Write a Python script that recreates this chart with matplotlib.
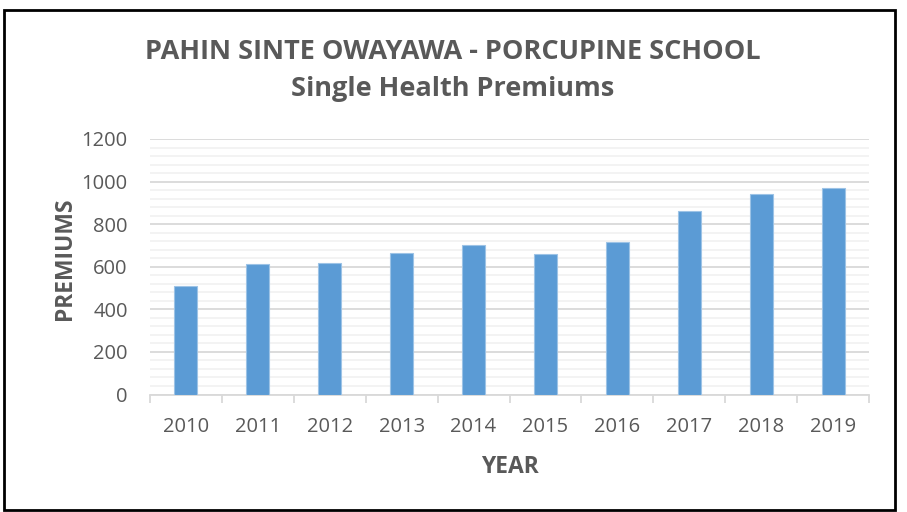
import matplotlib
matplotlib.use("Agg")
import matplotlib.pyplot as plt
from matplotlib.patches import Rectangle
from matplotlib.ticker import MultipleLocator, FixedLocator

years = ["2010", "2011", "2012", "2013", "2014", "2015", "2016", "2017", "2018", "2019"]
premiums = [509, 612, 617, 663, 700, 659, 716, 863, 940, 968]
yticks = [0, 200, 400, 600, 800, 1000, 1200]

title1 = "PAHIN SINTE OWAYAWA - PORCUPINE SCHOOL"
title2 = "Single Health Premiums"
xlabel = "YEAR"
ylabel = "PREMIUMS"

plt.rcParams['font.family'] = ['Open Sans', 'DejaVu Sans']
grey = '#595959'

fig = plt.figure(figsize=(9.07, 5.12), dpi=100)
ax = fig.add_axes([150/907, 1-394.5/512, (869-150)/907, (394.5-139)/512])

x = list(range(len(years)))
ax.bar(x, premiums, width=0.32, color='#5B9BD5', edgecolor='#9DC3E6', linewidth=0.8, zorder=3)

ax.set_xlim(-0.5, len(years)-0.5)
ax.set_ylim(0, 1200)
ax.yaxis.set_major_locator(FixedLocator(yticks))
ax.yaxis.set_minor_locator(MultipleLocator(40))
ax.grid(axis='y', which='major', color='#D9D9D9', linewidth=1.3, zorder=0)
ax.grid(axis='y', which='minor', color='#F2F2F2', linewidth=1.3, zorder=0)
ax.set_axisbelow(True)

for s in ['left', 'right', 'top']:
    ax.spines[s].set_visible(False)
ax.spines['bottom'].set_color('#D9D9D9')
ax.spines['bottom'].set_linewidth(1.3)

ax.set_xticks(x)
ax.set_xticklabels(years)
ax.xaxis.set_minor_locator(FixedLocator([i - 0.5 for i in range(len(years)+1)]))
ax.tick_params(axis='x', which='major', length=0, pad=16, labelsize=14.5, labelcolor=grey)
ax.tick_params(axis='x', which='minor', length=6, width=1.3, color='#D9D9D9')
ax.tick_params(axis='y', which='both', length=0, pad=16, labelsize=14.5, labelcolor=grey)

fig.text(509.5/907, 1-473/512, xlabel, ha='center', va='baseline', fontsize=16.5, fontweight='bold', color=grey)
fig.text(65/907, 1-259/512, ylabel, ha='center', va='center', rotation=90, fontsize=16.5, fontweight='bold', color=grey)

fig.text(453/907, 1-59/512, title1, ha='center', va='baseline', fontsize=19.5, fontweight='bold', color=grey)
fig.text(453/907, 1-96/512, title2, ha='center', va='baseline', fontsize=19.5, fontweight='bold', color=grey)

fig.patches.append(Rectangle((4/907, 1-510/512), (895-4)/907, (510-10)/512, transform=fig.transFigure,
                             fill=False, edgecolor='black', linewidth=2))

fig.savefig("out.png", dpi=100)
